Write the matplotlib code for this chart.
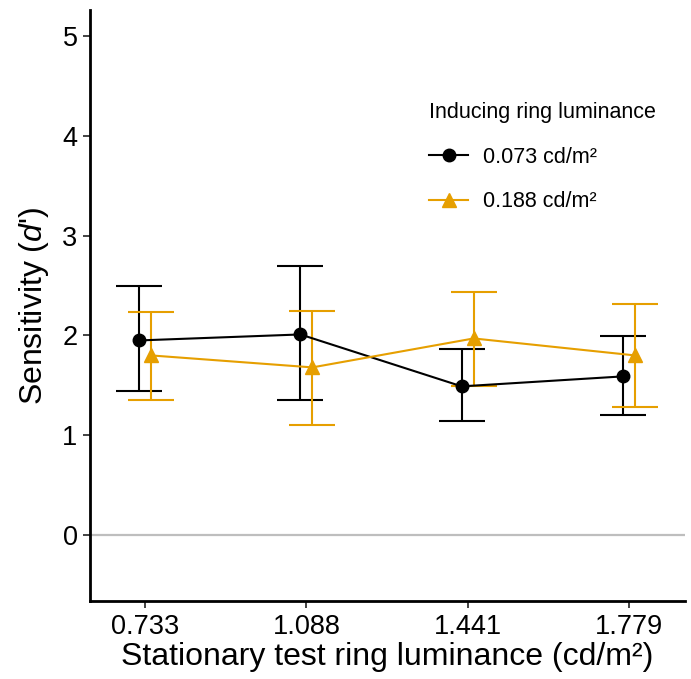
import matplotlib
matplotlib.use("Agg")
import matplotlib.pyplot as plt
import numpy as np

plt.rcParams['font.family'] = ['Liberation Sans', 'DejaVu Sans']
plt.rcParams['mathtext.fontset'] = 'custom'
plt.rcParams['mathtext.rm'] = 'Liberation Sans'
plt.rcParams['mathtext.it'] = 'Liberation Sans:italic'

# Data
test_lum = ['0.733', '1.088', '1.441', '1.779']
series_names = ['0.073 cd/m²', '0.188 cd/m²']

dprime_low = [1.95, 2.01, 1.49, 1.59]
lower_low = [1.44, 1.35, 1.14, 1.20]
upper_low = [2.50, 2.70, 1.86, 1.99]

dprime_high = [1.80, 1.68, 1.97, 1.80]
lower_high = [1.35, 1.10, 1.49, 1.28]
upper_high = [2.23, 2.24, 2.44, 2.32]

colors = ['black', '#E69F00']
markers = ['o', '^']

fig = plt.figure(figsize=(6.91, 6.79), dpi=100)
ax = fig.add_axes([90/691, 78/679, 595/691, 591/679])

# reference line at zero
ax.axhline(0, color='#BEBEBE', lw=1.6, zorder=0)

x = np.arange(len(test_lum))
dodge = 0.037
groups = [(dprime_low, lower_low, upper_low), (dprime_high, lower_high, upper_high)]
for i, (y, lo, hi) in enumerate(groups):
    y = np.array(y)
    xs = x + (-dodge if i == 0 else dodge)
    yerr = [y - np.array(lo), np.array(hi) - y]
    ax.errorbar(xs, y, yerr=yerr, fmt='none', ecolor=colors[i],
                elinewidth=1.5, capsize=16.5, capthick=1.5, zorder=2)
    ax.plot(xs, y, color=colors[i], lw=1.5, marker=markers[i],
            markersize=9 if i == 0 else 9.5, label=series_names[i], zorder=3)

ax.set_xlim(-0.341, 3.347)
ax.set_ylim(-0.66, 5.26)
ax.set_xticks(x)
ax.set_xticklabels(test_lum)
ax.set_yticks([0, 1, 2, 3, 4, 5])

for s in ['top', 'right']:
    ax.spines[s].set_visible(False)
for s in ['left', 'bottom']:
    ax.spines[s].set_linewidth(2)
ax.tick_params(axis='both', length=5, width=1.3, labelsize=19.5,
               color='#333333', labelcolor='black', pad=4)

ax.set_xlabel('Stationary test ring luminance (cd/m²)', fontsize=23, labelpad=2)
ax.set_ylabel("Sensitivity ($d$')", fontsize=23, labelpad=8)

leg = ax.legend(loc='upper left', bbox_to_anchor=(0.538, 0.877), frameon=False,
                fontsize=15.5, title='Inducing ring luminance', title_fontsize=15.5,
                handlelength=1.8, handletextpad=0.7, labelspacing=1.1,
                alignment='left')

fig.savefig('out.png', dpi=100)
